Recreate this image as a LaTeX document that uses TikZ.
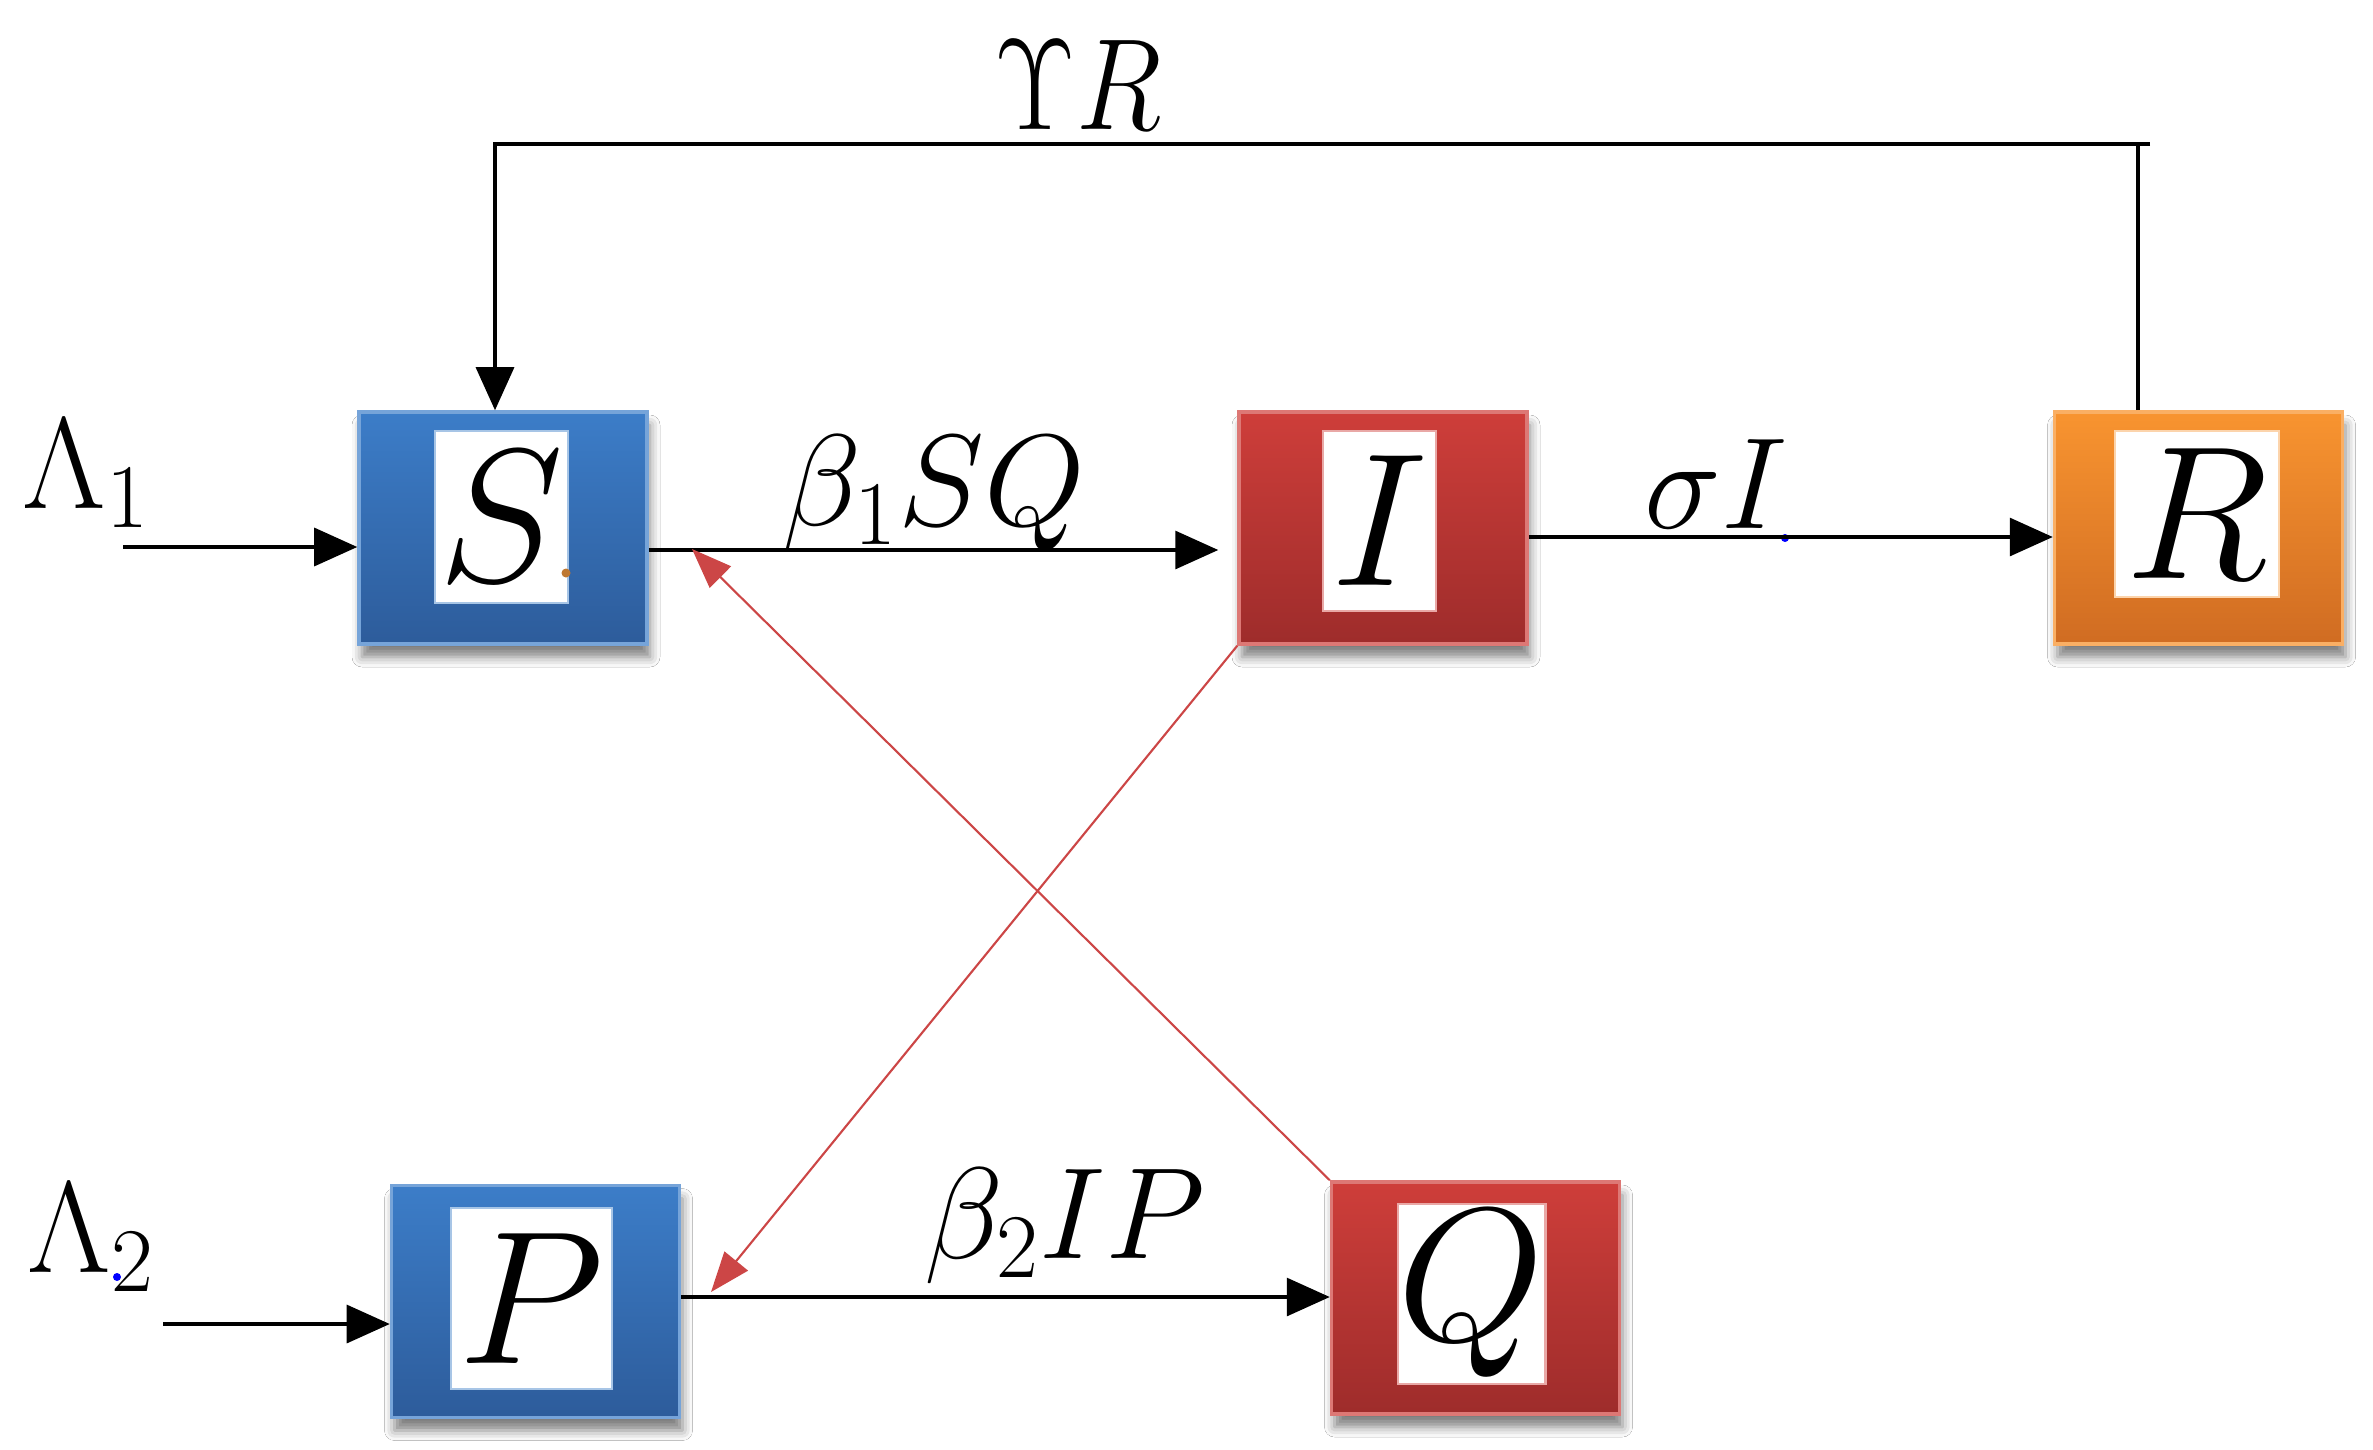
\RequirePackage{fix-cm}
\documentclass[tikz,border=0pt]{standalone}
\usepackage{graphicx}
\usetikzlibrary{arrows.meta,shadows.blur,calc}
\definecolor{bluetop}{RGB}{60,125,200}
\definecolor{bluebot}{RGB}{45,92,155}
\definecolor{redtop}{RGB}{206,62,58}
\definecolor{redbot}{RGB}{158,44,43}
\definecolor{orgtop}{RGB}{248,148,48}
\definecolor{orgbot}{RGB}{208,108,34}
\definecolor{linkred}{RGB}{204,70,70}
\definecolor{dotbrown}{RGB}{190,120,50}
\tikzset{
  box/.style={minimum width=2.88cm, minimum height=2.32cm, inner sep=0pt, line width=1pt,
    blur shadow={shadow xshift=0.03cm, shadow yshift=-0.13cm, shadow blur radius=0.10cm,
      shadow blur extra rounding=0pt, shadow opacity=50}},
  bluebox/.style={box, top color=bluetop, bottom color=bluebot, draw=bluetop!70!white},
  redbox/.style={box, top color=redtop, bottom color=redbot, draw=redtop!70!white},
  orgbox/.style={box, top color=orgtop, bottom color=orgbot, draw=orgtop!75!white},
  letterbox/.style={fill=white, inner sep=0pt, line width=0.8pt, font=\fontsize{54}{60}\selectfont},
  lbl/.style={inner sep=0pt, font=\fontsize{37}{44}\selectfont},
  arr/.style={line width=0.9pt, -{Triangle[length=0.43cm,width=0.38cm]}},
  plain/.style={line width=0.9pt},
  redarr/.style={draw=linkred, line width=0.6pt, -{Triangle[length=0.40cm,width=0.30cm]}}
}
\begin{document}
\begin{tikzpicture}
\useasboundingbox (0,0) rectangle (23.73,-14.49);
\fill[white] (0,0) rectangle (23.73,-14.49);

% boxes
\node[bluebox] (S) at (5.03,-5.28) {};
\node[redbox]  (I) at (13.83,-5.28) {};
\node[orgbox]  (R) at (21.985,-5.28) {};
\node[bluebox] (P) at (5.355,-13.015) {};
\node[redbox]  (Q) at (14.755,-12.98) {};

% inner white labels
\node[letterbox, draw=bluetop!45!white, minimum width=1.33cm, minimum height=1.72cm] (Sw) at (5.015,-5.17) {$S$};
\node[letterbox, draw=redtop!45!white, minimum width=1.13cm, minimum height=1.80cm] (Iw) at (13.795,-5.21) {$I$};
\node[letterbox, draw=orgtop!40!white, minimum width=1.64cm, minimum height=1.66cm] (Rw) at (21.97,-5.14) {$R$};
\node[letterbox, draw=bluetop!45!white, minimum width=1.61cm, minimum height=1.81cm] (Pw) at (5.315,-12.985) {$P$};
\node[letterbox, draw=redtop!45!white, minimum width=1.45cm, minimum height=1.80cm] (Qw) at (14.715,-12.94) {$Q$};
\fill[dotbrown] (5.66,-5.73) circle (0.045);

% labels
\node[lbl, anchor=base] (ups) at (10.78,-1.29) {\scalebox{0.87}[1]{$\Upsilon R$}};
\node[lbl, anchor=base west] (lam1) at (0.22,-5.08) {$\Lambda_1$};
\node[lbl, anchor=base west] (lam2) at (0.27,-12.72) {$\Lambda_2$};
\node[lbl, anchor=base] (bsq) at (9.34,-5.25) {$\beta_1 SQ$};
\node[lbl, anchor=base] (sig) at (17.16,-5.28) {$\sigma I$};
\node[lbl, anchor=base] (bip) at (10.65,-12.58) {$\beta_2 I P$};
\fill[blue] (17.85,-5.38) circle (0.04);
\fill[blue] (1.17,-12.77) circle (0.04);

% inflow arrows
\coordinate (L1s) at (1.23,-5.47);
\coordinate (L2s) at (1.63,-13.24);
\draw[arr] (L1s) -- (L1s -| S.west);
\draw[arr] (L2s) -- (L2s -| P.west);

% horizontal transitions
\draw[arr, shorten >=0.19cm] (S.east |- 0,-5.50) -- (I.west |- 0,-5.50);
\draw[arr] (I.east |- 0,-5.37) -- (R.west |- 0,-5.37);
\draw[arr] (P.east |- 0,-12.97) -- (Q.west |- 0,-12.97);

% feedback R -> S
\coordinate (fbR) at (21.38,-1.44);
\coordinate (fbE) at (21.50,-1.44);
\coordinate (fbL) at (4.95,-1.44);
\draw[plain] (fbR |- R.north) -- (fbR);
\draw[arr] (fbE) -- (fbL) -- (fbL |- S.north);

% red cross links
\coordinate (qsTip) at (6.92,-5.49);
\coordinate (ipTip) at (7.11,-12.92);
\draw[redarr] (Q.north west) -- (qsTip);
\draw[redarr] (I.south west) -- (ipTip);
\end{tikzpicture}
\end{document}
